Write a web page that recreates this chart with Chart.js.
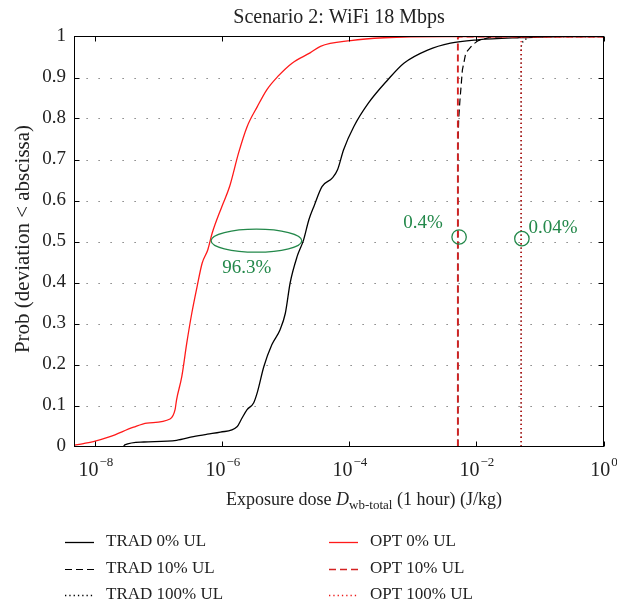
<!DOCTYPE html>
<html>
<head>
<meta charset="utf-8">
<script src="https://cdn.jsdelivr.net/npm/chart.js@4.4.1/dist/chart.umd.min.js"></script>
<style>
  html, body { margin: 0; padding: 0; background: #fff; }
</style>
</head>
<body>
<canvas id="chart" width="617" height="605"></canvas>
<script>
// ---- data ----
const chartTitle = "Scenario 2: WiFi 18 Mbps";
const xTickValues = [1e-8, 1e-6, 1e-4, 1e-2, 1];
const xTickExponents = ["\u22128", "\u22126", "\u22124", "\u22122", "0"];
const yGridValues = [0.1, 0.2, 0.3, 0.4, 0.5, 0.6, 0.7, 0.8, 0.9];

// TRAD 0% UL
const trad0X = [2.8e-8, 2.9e-8, 5.8e-8, 1.9e-7, 3.5e-7, 5.8e-7, 9.3e-7, 1.7e-6, 2.0e-6, 2.45e-6, 3.1e-6,
  3.55e-6, 4.5e-6, 6.0e-6, 8.1e-6, 9.8e-6, 1.17e-5, 1.5e-5, 1.9e-5, 2.3e-5, 2.75e-5, 3.7e-5, 5.4e-5,
  6.5e-5, 8.1e-5, 1.17e-4, 2.0e-4, 4.0e-4, 7.2e-4, 1.7e-3, 3.9e-3, 1.05e-2, 4.5e-2, 0.25, 1];
const trad0Y = [0.0, 0.004, 0.011, 0.015, 0.024, 0.030, 0.035, 0.048, 0.067, 0.09, 0.106,
  0.132, 0.195, 0.248, 0.285, 0.325, 0.40, 0.463, 0.504, 0.553, 0.585, 0.634, 0.655,
  0.675, 0.724, 0.78, 0.838, 0.894, 0.935, 0.967, 0.984, 0.992, 0.997, 1, 1];

// TRAD 10% UL
const trad10X = [5.1e-3, 5.1e-3, 5.25e-3, 5.5e-3, 6.0e-3, 6.8e-3, 8.7e-3, 1.07e-2, 1.6e-2, 3.2e-2, 1];
const trad10Y = [0, 0.72, 0.8, 0.845, 0.918, 0.96, 0.98, 0.99, 0.998, 1, 1];

// TRAD 100% UL
const trad100X = [5.05e-2, 5.05e-2, 5.4e-2, 5.9e-2, 7.0e-2, 1];
const trad100Y = [0, 0.975, 0.988, 0.993, 1, 1];

// OPT 0% UL
const opt0X = [4.7e-9, 6.5e-9, 9.3e-9, 1.7e-8, 4.0e-8, 6.5e-8, 1.5e-7, 1.8e-7, 1.9e-7, 2.3e-7, 2.75e-7,
  3.3e-7, 4.0e-7, 4.8e-7, 5.9e-7, 6.9e-7, 9.8e-7, 1.3e-6, 1.8e-6, 2.45e-6, 3.55e-6, 5.0e-6, 7.4e-6,
  1.25e-5, 2.4e-5, 3.5e-5, 1.05e-4, 3.5e-4, 3.2e-3, 1];
const opt0Y = [0.003, 0.007, 0.012, 0.024, 0.047, 0.057, 0.067, 0.09, 0.114, 0.171, 0.252,
  0.325, 0.39, 0.447, 0.48, 0.52, 0.585, 0.634, 0.716, 0.78, 0.829, 0.87, 0.902,
  0.935, 0.96, 0.976, 0.99, 0.997, 1, 1];

// OPT 10% UL
const opt10X = [5.1e-3, 5.1e-3, 5.3e-3, 1];
const opt10Y = [0, 0.996, 1, 1];

// OPT 100% UL
const opt100X = [5.05e-2, 5.05e-2, 1];
const opt100Y = [0, 1, 1];

const seriesLabels = ["TRAD 0% UL", "TRAD 10% UL", "TRAD 100% UL", "OPT 0% UL", "OPT 10% UL", "OPT 100% UL"];

// annotations (data units)
const ellipseX = [6.64e-7, 1.78e-5];
const ellipseY = [0.474, 0.530];
const circlePts = [[5.33e-3, 0.511], [5.19e-2, 0.507]];
const noteTexts = ["96.3%", "0.4%", "0.04%"];
const notePts = [[2.42e-6, 0.435], [1.44e-3, 0.546], [0.161, 0.533]];

function pts(xs, ys) {
    return xs.map((x, i) => ({ x: x, y: ys[i] }));
}

const SERIF = "'Liberation Serif', 'DejaVu Serif', serif";
const GREEN = "#23884a";
const DASH = [7, 4];
const DOT = [1.3, 3];

const datasets = [
    { label: seriesLabels[0], data: pts(trad0X, trad0Y), borderColor: "#000", borderWidth: 1.3, borderDash: [], order: 2, cubicInterpolationMode: "monotone" },
    { label: seriesLabels[1], data: pts(trad10X, trad10Y), borderColor: "#000", borderWidth: 1.2, borderDash: DASH, order: 2 },
    { label: seriesLabels[2], data: pts(trad100X, trad100Y), borderColor: "#000", borderWidth: 1.3, borderDash: DOT, order: 2 },
    { label: seriesLabels[3], data: pts(opt0X, opt0Y), borderColor: "#ff1a1a", borderWidth: 1.3, borderDash: [], order: 1, cubicInterpolationMode: "monotone" },
    { label: seriesLabels[4], data: pts(opt10X, opt10Y), borderColor: "#d42222", borderWidth: 1.9, borderDash: DASH, order: 1 },
    { label: seriesLabels[5], data: pts(opt100X, opt100Y), borderColor: "rgba(235,0,0,0.9)", borderWidth: 1.3, borderDash: DOT, order: 1 }
];
datasets.forEach(d => { d.pointRadius = 0; d.fill = false; d.tension = 0; });

// ================= DECORATION =================
const decor = {
    id: "decor",
    beforeDatasetsDraw(chart) {
        const { ctx, chartArea: a, scales: { y } } = chart;
        ctx.save();
        ctx.strokeStyle = "#666";
        ctx.lineWidth = 1.2;
        ctx.setLineDash([1.2, 10.8]);
        yGridValues.forEach(v => {
            const py = Math.round(y.getPixelForValue(v)) + 0.5;
            ctx.beginPath();
            ctx.moveTo(a.left + 12, py);
            ctx.lineTo(a.right, py);
            ctx.stroke();
        });
        ctx.restore();
    },
    afterDatasetsDraw(chart) {
        const { ctx, chartArea: a, scales: { x, y } } = chart;
        ctx.save();
        // frame + inward ticks
        ctx.strokeStyle = "#000";
        ctx.lineWidth = 1;
        ctx.strokeRect(a.left, a.top, a.right - a.left, a.bottom - a.top);
        ctx.beginPath();
        xTickValues.forEach(v => {
            const px = Math.round(x.getPixelForValue(v)) + 0.5;
            ctx.moveTo(px, a.bottom); ctx.lineTo(px, a.bottom - 5);
            ctx.moveTo(px, a.top); ctx.lineTo(px, a.top + 5);
        });
        yGridValues.forEach(v => {
            const py = Math.round(y.getPixelForValue(v)) + 0.5;
            ctx.moveTo(a.left, py); ctx.lineTo(a.left + 5, py);
            ctx.moveTo(a.right, py); ctx.lineTo(a.right - 5, py);
        });
        ctx.stroke();

        // green annotations
        ctx.strokeStyle = GREEN;
        ctx.fillStyle = GREEN;
        ctx.lineWidth = 1.3;
        const ex1 = x.getPixelForValue(ellipseX[0]), ex2 = x.getPixelForValue(ellipseX[1]);
        const ey1 = y.getPixelForValue(ellipseY[1]), ey2 = y.getPixelForValue(ellipseY[0]);
        ctx.beginPath();
        ctx.ellipse((ex1 + ex2) / 2, (ey1 + ey2) / 2, (ex2 - ex1) / 2, (ey2 - ey1) / 2, 0, 0, Math.PI * 2);
        ctx.stroke();
        circlePts.forEach(p => {
            ctx.beginPath();
            ctx.arc(x.getPixelForValue(p[0]), y.getPixelForValue(p[1]), 7.2, 0, Math.PI * 2);
            ctx.stroke();
        });
        ctx.font = "19px " + SERIF;
        ctx.textAlign = "center";
        ctx.textBaseline = "middle";
        noteTexts.forEach((t, i) => {
            ctx.fillText(t, x.getPixelForValue(notePts[i][0]), y.getPixelForValue(notePts[i][1]));
        });
        ctx.restore();
    },
    afterDraw(chart) {
        const { ctx, chartArea: a, scales: { x } } = chart;
        ctx.save();
        ctx.fillStyle = "#222";
        ctx.textBaseline = "alphabetic";

        // title
        ctx.font = "20px " + SERIF;
        ctx.textAlign = "center";
        ctx.fillText(chartTitle, (a.left + a.right) / 2, 23);

        // x tick labels with superscript exponents
        ctx.textAlign = "left";
        xTickValues.forEach((v, i) => {
            ctx.font = "20px " + SERIF;
            const wb = ctx.measureText("10").width;
            ctx.font = "13px " + SERIF;
            const we = ctx.measureText(xTickExponents[i]).width;
            const start = x.getPixelForValue(v) - (wb + we) / 2;
            ctx.font = "20px " + SERIF;
            ctx.fillText("10", start, 476);
            ctx.font = "13px " + SERIF;
            ctx.fillText(xTickExponents[i], start + wb + 1, 466);
        });

        // x axis title
        const parts = [
            ["Exposure dose ", "18px " + SERIF, 0],
            ["D", "italic 18px " + SERIF, 0],
            ["wb-total", "13px " + SERIF, 4],
            [" (1 hour) (J/kg)", "18px " + SERIF, 0]
        ];
        let total = 0;
        parts.forEach(p => { ctx.font = p[1]; total += ctx.measureText(p[0]).width; });
        let cx = 364 - total / 2;
        parts.forEach(p => {
            ctx.font = p[1];
            ctx.fillText(p[0], cx, 505 + p[2]);
            cx += ctx.measureText(p[0]).width;
        });

        // y axis title
        ctx.save();
        ctx.translate(23, 239);
        ctx.rotate(-Math.PI / 2);
        ctx.textAlign = "center";
        ctx.textBaseline = "middle";
        ctx.font = "21px " + SERIF;
        ctx.fillText("Prob (deviation < abscissa)", 0, 0);
        ctx.restore();

        // legend, two columns
        const cols = [[65, 106], [329, 370]];
        const rows = [542, 569, 595];
        chart.data.datasets.forEach((d, i) => {
            const col = cols[Math.floor(i / 3)];
            const ry = rows[i % 3];
            ctx.save();
            ctx.strokeStyle = d.borderColor;
            ctx.lineWidth = Math.min(d.borderWidth, 1.5);
            ctx.setLineDash(d.borderDash);
            ctx.beginPath();
            ctx.moveTo(col[0], ry + 0.5);
            ctx.lineTo(col[0] + 29, ry + 0.5);
            ctx.stroke();
            ctx.restore();
            ctx.font = "17px " + SERIF;
            ctx.textAlign = "left";
            ctx.textBaseline = "middle";
            ctx.fillText(d.label, col[1], ry);
        });
        ctx.restore();
    }
};

new Chart(document.getElementById("chart"), {
    type: "line",
    data: { datasets: datasets },
    options: {
        responsive: false,
        animation: false,
        layout: { padding: { left: 0, right: 13.5, top: 36.5, bottom: 0 } },
        plugins: { legend: { display: false }, tooltip: { enabled: false } },
        scales: {
            x: {
                type: "logarithmic",
                min: 4.7e-9,
                max: 1,
                grid: { display: false, drawTicks: false },
                border: { display: false },
                ticks: { display: false },
                afterFit: s => { s.height = 158.5; }
            },
            y: {
                min: 0,
                max: 1,
                grid: { display: false, drawTicks: false },
                border: { display: false },
                ticks: {
                    stepSize: 0.1,
                    padding: 8.5,
                    color: "#222",
                    font: { family: SERIF, size: 19 },
                    callback: v => String(Math.round(v * 10) / 10)
                },
                afterFit: s => { s.width = 74.5; }
            }
        }
    },
    plugins: [decor]
});
</script>
</body>
</html>
